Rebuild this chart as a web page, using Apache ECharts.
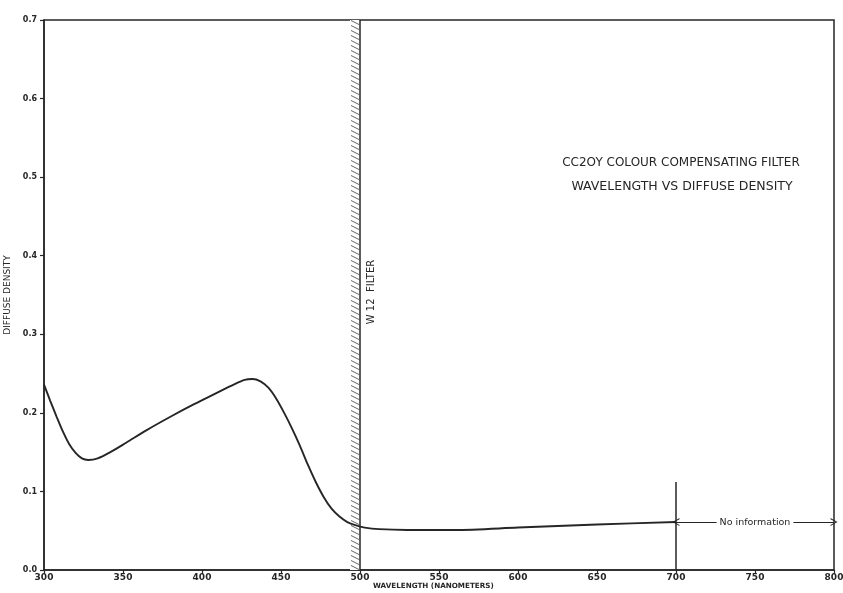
<!DOCTYPE html>
<html>
<head>
<meta charset="utf-8">
<script src="https://cdn.jsdelivr.net/npm/echarts@6/dist/echarts.min.js"></script>
<style>
  html, body { margin: 0; padding: 0; background: #fff; overflow: hidden; }
  #chart { width: 843px; height: 593px; }
</style>
</head>
<body>
<div id="chart"></div>
<script>
// Wavelength (nm) and diffuse density of the CC20Y filter
const wavelength = [300, 304, 308, 312, 316, 320, 324, 328, 334, 342, 352, 365, 380, 395, 410, 420, 427, 432, 437, 442, 447, 452, 457, 462, 467, 472, 477, 482, 487, 492, 497, 503, 512, 530, 560, 600, 650, 700];
const density    = [0.236, 0.215, 0.195, 0.176, 0.160, 0.149, 0.142, 0.140, 0.142, 0.150, 0.162, 0.178, 0.195, 0.211, 0.226, 0.236, 0.242, 0.243, 0.240, 0.232, 0.218, 0.200, 0.180, 0.158, 0.134, 0.112, 0.093, 0.078, 0.068, 0.061, 0.057, 0.054, 0.052, 0.051, 0.051, 0.054, 0.058, 0.061];

// W12 filter cut-off band and the "no information" range
const filterBand = [493.7, 500];
const noInfoRange = [700, 800];
const noInfoLevel = 0.061;
const noInfoTickTop = 0.112;

const xTicks = { min: 300, max: 800, step: 50 };
const yTicks = { min: 0, max: 0.7, step: 0.1 };

const ink = '#262626';
const font = 'DejaVu Sans';

// diagonal hatch used for the filter band
const hatch = document.createElement('canvas');
hatch.width = 10; hatch.height = 5;
(function () {
  const c = hatch.getContext('2d');
  c.fillStyle = '#fff';
  c.fillRect(0, 0, 10, 5);
  c.strokeStyle = '#666';
  c.lineWidth = 1;
  c.beginPath();
  c.moveTo(1, 0.5); c.lineTo(9, 4.5);
  c.stroke();
})();

const chevron = 'path://M0,10 L5,0 L10,10 L8.6,10 L5,2.6 L1.4,10 Z';

const chart = echarts.init(document.getElementById('chart'), null, { renderer: 'canvas', width: 843, height: 593 });

chart.setOption({
  backgroundColor: '#fff',
  animation: false,
  grid: {
    left: 44, right: 9, top: 20, bottom: 23,
    containLabel: false, outerBoundsMode: 'none',
    show: true, borderColor: ink, borderWidth: 1.5, backgroundColor: 'transparent'
  },
  xAxis: {
    type: 'value', min: xTicks.min, max: xTicks.max, interval: xTicks.step,
    axisLine: { show: true, lineStyle: { color: ink, width: 1.5 } },
    axisTick: { show: true, length: 4, lineStyle: { color: ink, width: 1.2 } },
    axisLabel: { color: ink, fontFamily: font, fontSize: 9, fontWeight: 'bold', margin: 3 },
    splitLine: { show: false }
  },
  yAxis: {
    type: 'value', min: yTicks.min, max: yTicks.max, interval: yTicks.step,
    name: 'DIFFUSE DENSITY', nameLocation: 'middle', nameGap: 26, nameRotate: 90,
    nameTextStyle: { color: ink, fontFamily: font, fontSize: 9 },
    axisLine: { show: true, lineStyle: { color: ink, width: 1.5 } },
    axisTick: { show: true, length: 4, lineStyle: { color: ink, width: 1.2 } },
    axisLabel: { color: ink, fontFamily: font, fontSize: 8, fontWeight: 'bold', margin: 7,
                 formatter: v => v.toFixed(1) },
    splitLine: { show: false }
  },
  series: [
    {
      type: 'line',
      data: wavelength.map((w, i) => [w, density[i]]),
      smooth: 0.3,
      showSymbol: false,
      lineStyle: { color: ink, width: 1.9 },
      z: 5,
      markArea: {
        silent: true,
        itemStyle: { color: { image: hatch, repeat: 'repeat' }, opacity: 1 },
        data: [[{ xAxis: filterBand[0], yAxis: yTicks.min }, { xAxis: filterBand[1], yAxis: yTicks.max }]]
      },
      markLine: {
        silent: true,
        animation: false,
        symbol: 'none',
        lineStyle: { color: ink, width: 1.5, type: 'solid' },
        label: { show: false },
        data: [
          [{ coord: [filterBand[1], yTicks.min] }, { coord: [filterBand[1], yTicks.max] }],
          [{ coord: [noInfoRange[0], 0] }, { coord: [noInfoRange[0], noInfoTickTop] }],
          [
            { coord: [noInfoRange[0], noInfoLevel], symbol: chevron, symbolSize: [8, 7] },
            {
              coord: [noInfoRange[1], noInfoLevel], symbol: chevron, symbolSize: [8, 7],
              lineStyle: { width: 1.2 },
              label: {
                show: true, position: 'middle', formatter: 'No information',
                color: ink, fontFamily: font, fontSize: 9.5,
                backgroundColor: '#fff', padding: [1, 3], distance: -6
              }
            }
          ]
        ]
      }
    }
  ],
  graphic: [
    {
      type: 'text', x: 681, y: 163,
      style: { text: 'CC2OY COLOUR COMPENSATING FILTER', fill: ink, font: '12px "DejaVu Sans"', align: 'center', verticalAlign: 'middle' }
    },
    {
      type: 'text', x: 682, y: 187,
      style: { text: 'WAVELENGTH VS DIFFUSE DENSITY', fill: ink, font: '12.5px "DejaVu Sans"', align: 'center', verticalAlign: 'middle' }
    },
    {
      type: 'text', x: 371, y: 292, rotation: Math.PI / 2,
      style: { text: 'W 12  FILTER', fill: ink, font: '10px "DejaVu Sans"', align: 'center', verticalAlign: 'middle' }
    },
    {
      type: 'text', x: 373, y: 586,
      style: { text: 'WAVELENGTH (NANOMETERS)', fill: ink, font: 'bold 7.2px "DejaVu Sans"', align: 'left', verticalAlign: 'middle' }
    }
  ]
});
</script>
</body>
</html>
